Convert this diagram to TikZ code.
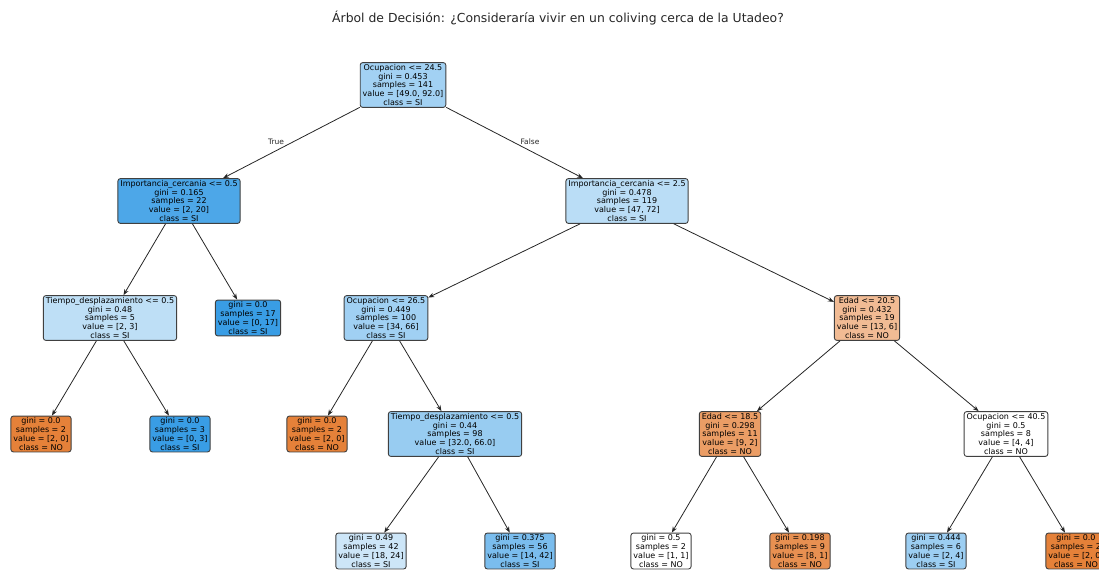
\documentclass[tikz,border=0pt]{standalone}
\usepackage{fontspec}
\setmainfont{DejaVu Sans}
\usetikzlibrary{arrows.meta}
\definecolor{skb}{RGB}{57,157,229}
\definecolor{sko}{RGB}{229,129,57}
\definecolor{edgec}{RGB}{64,64,64}
\tikzset{
  tn/.style={draw=edgec, line width=0.9pt, rounded corners=2.5pt, align=center,
    inner xsep=2.5pt, inner ysep=1.5pt, font=\fontsize{8}{8.9}\selectfont},
  arr/.style={-{Stealth[length=6pt,width=4.5pt]}, line width=0.8pt, draw=black!85},
  lab/.style={font=\fontsize{7.5}{8.5}\selectfont, text=black!85}
}
\begin{document}
\begin{tikzpicture}[x=1pt,y=-1pt]
\useasboundingbox (0,0) rectangle (1099,572);
\clip (0,0) rectangle (1099,572);
\node[font=\fontsize{12.4}{14}\selectfont, text=black!85] (title) at (558,18) {Árbol de Decisión: ¿Consideraría vivir en un coliving cerca de la Utadeo?};

\node[tn, fill=skb!47!white] (n0) at (403,85) {Ocupacion <= 24.5\\gini = 0.453\\samples = 141\\value = [49.0, 92.0]\\class = SI};
\node[tn, fill=skb!90!white] (n1) at (179,201) {Importancia\_cercania <= 0.5\\gini = 0.165\\samples = 22\\value = [2, 20]\\class = SI};
\node[tn, fill=skb!35!white] (n2) at (627,201) {Importancia\_cercania <= 2.5\\gini = 0.478\\samples = 119\\value = [47, 72]\\class = SI};

\node[tn, fill=skb!33!white] (n3) at (110,318) {Tiempo\_desplazamiento <= 0.5\\gini = 0.48\\samples = 5\\value = [2, 3]\\class = SI};
\node[tn, fill=skb] (n4) at (248,318) {gini = 0.0\\samples = 17\\value = [0, 17]\\class = SI};
\node[tn, fill=skb!48!white] (n5) at (386,318) {Ocupacion <= 26.5\\gini = 0.449\\samples = 100\\value = [34, 66]\\class = SI};
\node[tn, fill=sko!54!white] (n6) at (867,318) {Edad <= 20.5\\gini = 0.432\\samples = 19\\value = [13, 6]\\class = NO};

\node[tn, fill=sko] (n7) at (41,434) {gini = 0.0\\samples = 2\\value = [2, 0]\\class = NO};
\node[tn, fill=skb] (n8) at (180,434) {gini = 0.0\\samples = 3\\value = [0, 3]\\class = SI};
\node[tn, fill=sko] (n9) at (317,434) {gini = 0.0\\samples = 2\\value = [2, 0]\\class = NO};
\node[tn, fill=skb!52!white] (n10) at (455,434) {Tiempo\_desplazamiento <= 0.5\\gini = 0.44\\samples = 98\\value = [32.0, 66.0]\\class = SI};
\node[tn, fill=sko!78!white] (n11) at (730,434) {Edad <= 18.5\\gini = 0.298\\samples = 11\\value = [9, 2]\\class = NO};
\node[tn, fill=white] (n12) at (1006,434) {Ocupacion <= 40.5\\gini = 0.5\\samples = 8\\value = [4, 4]\\class = NO};

\node[tn, fill=skb!25!white] (n13) at (371,551) {gini = 0.49\\samples = 42\\value = [18, 24]\\class = SI};
\node[tn, fill=skb!67!white] (n14) at (520,551) {gini = 0.375\\samples = 56\\value = [14, 42]\\class = SI};
\node[tn, fill=white] (n15) at (661,551) {gini = 0.5\\samples = 2\\value = [1, 1]\\class = NO};
\node[tn, fill=sko!88!white] (n16) at (800,551) {gini = 0.198\\samples = 9\\value = [8, 1]\\class = NO};
\node[tn, fill=skb!50!white] (n17) at (936,551) {gini = 0.444\\samples = 6\\value = [2, 4]\\class = SI};
\node[tn, fill=sko] (n18) at (1076,551) {gini = 0.0\\samples = 2\\value = [2, 0]\\class = NO};

\draw[arr] (n0) -- (n1);
\draw[arr] (n0) -- (n2);
\draw[arr] (n1) -- (n3);
\draw[arr] (n1) -- (n4);
\draw[arr] (n2) -- (n5);
\draw[arr] (n2) -- (n6);
\draw[arr] (n3) -- (n7);
\draw[arr] (n3) -- (n8);
\draw[arr] (n5) -- (n9);
\draw[arr] (n5) -- (n10);
\draw[arr] (n6) -- (n11);
\draw[arr] (n6) -- (n12);
\draw[arr] (n10) -- (n13);
\draw[arr] (n10) -- (n14);
\draw[arr] (n11) -- (n15);
\draw[arr] (n11) -- (n16);
\draw[arr] (n12) -- (n17);
\draw[arr] (n12) -- (n18);

\node[lab] (ltrue) at (276,142) {True};
\node[lab] (lfalse) at (530,142) {False};
\end{tikzpicture}
\end{document}
